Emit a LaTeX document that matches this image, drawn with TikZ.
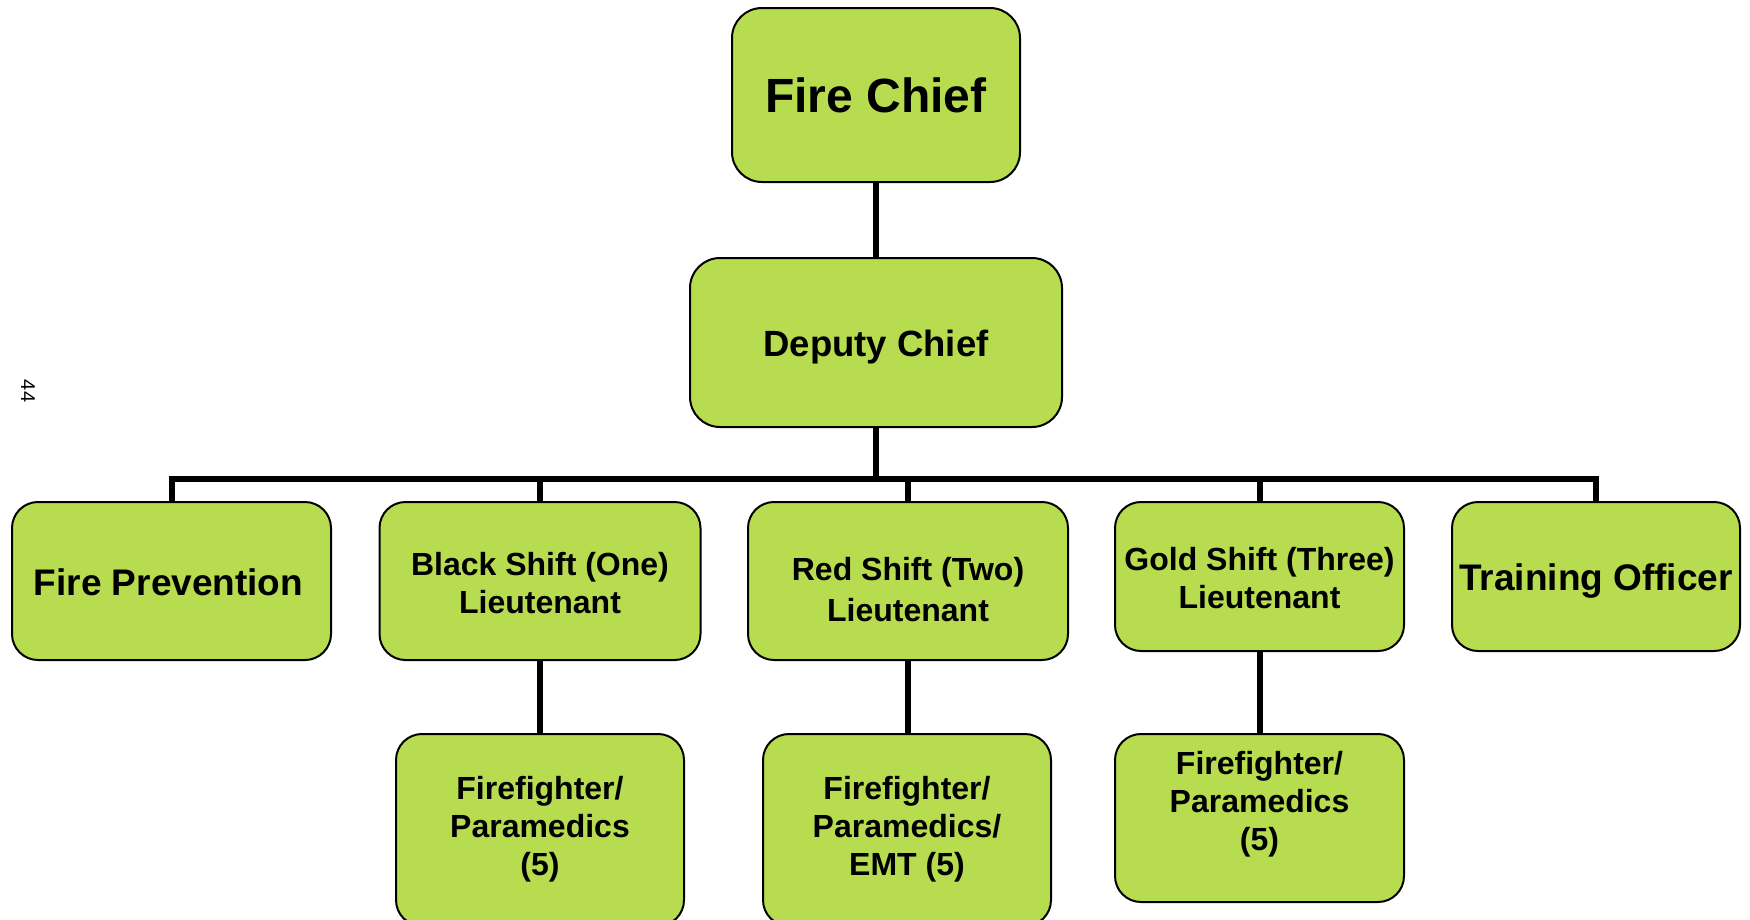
\documentclass[tikz,border=0pt]{standalone}
\usepackage{fontspec}
\setmainfont{Liberation Sans}
\definecolor{boxgreen}{RGB}{184,220,80}
\begin{document}
\begin{tikzpicture}[x=1pt,y=-1pt,
  box/.style={draw=black, line width=2pt, fill=boxgreen, rounded corners=26pt, inner sep=0pt},
  txt/.style={inner sep=0pt, align=center, font=\bfseries\fontsize{32}{38}\selectfont},
  conn/.style={draw=black, line width=6pt}]
\useasboundingbox (0,0) rectangle (1750,919);
% boxes
\node[box, minimum width=288pt, minimum height=174pt, rounded corners=30pt] (fc) at (876,95) {};
\node[box, minimum width=372pt, minimum height=169pt, rounded corners=30pt] (dc) at (876,342.5) {};
\node[box, minimum width=319pt, minimum height=158pt] (fp) at (171.5,581) {};
\node[box, minimum width=321pt, minimum height=158pt] (bs) at (540,581) {};
\node[box, minimum width=320pt, minimum height=158pt] (rs) at (908,581) {};
\node[box, minimum width=289pt, minimum height=149pt] (gs) at (1259.5,576.5) {};
\node[box, minimum width=288pt, minimum height=149pt] (to) at (1596,576.5) {};
\node[box, minimum width=288pt, minimum height=192pt] (bf) at (540,830) {};
\node[box, minimum width=288pt, minimum height=192pt] (rf) at (907,830) {};
\node[box, minimum width=289pt, minimum height=168pt] (gf) at (1259.5,818) {};
% texts
\node[txt, font=\bfseries\fontsize{48}{56}\selectfont] (fct) at (fc.center) {Fire Chief};
\node[txt, font=\bfseries\fontsize{36.5}{42}\selectfont] (dct) at ([yshift=-5pt]dc.center) {Deputy Chief};
\node[txt, font=\bfseries\fontsize{37}{44}\selectfont] (fpt) at ([xshift=-3pt,yshift=-1pt]fp.center) {Fire Prevention};
\node[txt] (bst) at ([yshift=-2pt]bs.center) {Black Shift (One)\\Lieutenant};
\node[txt] (rst) at ([yshift=-9pt]rs.center) {Red Shift (Two)\\[3pt]Lieutenant};
\node[txt] (gst) at ([yshift=-2pt]gs.center) {Gold Shift (Three)\\Lieutenant};
\node[txt, font=\bfseries\fontsize{37}{44}\selectfont] (tot) at ([yshift=-5pt]to.center) {Training Officer};
\node[txt] (bft) at ([yshift=1pt]bf.center) {Firefighter/\\Paramedics\\(5)};
\node[txt] (rft) at ([yshift=1pt]rf.center) {Firefighter/\\Paramedics/\\EMT (5)};
\node[txt] (gft) at ([yshift=14pt]gf.center) {Firefighter/\\Paramedics\\(5)};
\node[rotate=-90, font=\fontsize{20}{24}\selectfont, inner sep=0pt] (pg) at (28,391) {44};
% connectors
\coordinate (bus) at (876,479);
\draw[conn] (fc.south) -- (dc.north);
\draw[conn] (dc.south) -- (bus);
\draw[conn] (fp.north) -- (fp.north |- bus) -- (to.north |- bus) -- (to.north);
\draw[conn] (bs.north) -- (bs.north |- bus);
\draw[conn] (rs.north) -- (rs.north |- bus);
\draw[conn] (gs.north) -- (gs.north |- bus);
\draw[conn] (bs.south) -- (bf.north);
\draw[conn] (rs.south) -- (rs.south |- rf.north);
\draw[conn] (gs.south) -- (gf.north);
\end{tikzpicture}
\end{document}
